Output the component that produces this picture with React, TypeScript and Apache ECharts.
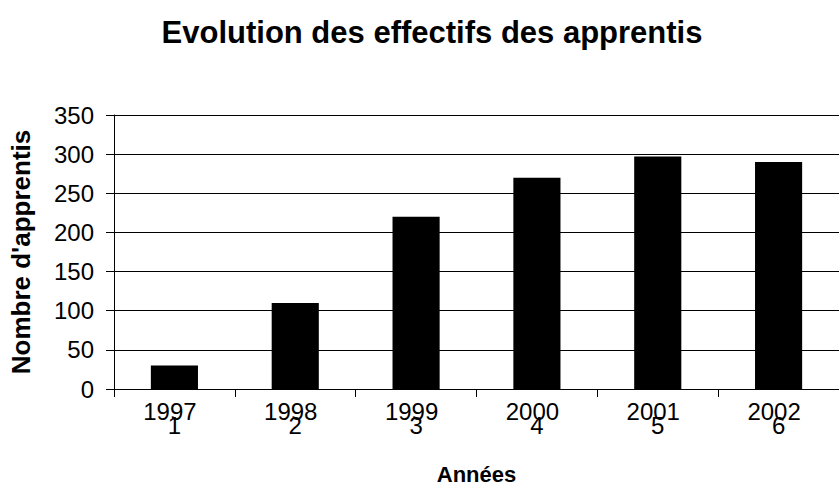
import React, { useEffect, useRef } from "react";
import * as echarts from "echarts";

const categories = ["1997", "1998", "1999", "2000", "2001", "2002"];
const indexLabels = ["1", "2", "3", "4", "5", "6"];
const apprentis = [30, 110, 220, 270, 297, 290];
const yMin = 0;
const yMax = 350;
const yStep = 50;

const FONT = "'Liberation Sans', Arial, sans-serif";

export default function App() {
  const ref = useRef<HTMLDivElement>(null);
  useEffect(() => {
    if (!ref.current) return;
    const chart = echarts.init(ref.current, undefined, { renderer: "svg" });
    chart.setOption({
      animation: false,
      backgroundColor: "#ffffff",
      textStyle: { fontFamily: FONT, color: "#000" },
      title: {
        text: "Evolution des effectifs des apprentis",
        left: 427,
        top: 12,
        textAlign: "center",
        textStyle: { fontFamily: FONT, fontSize: 31, fontWeight: "bold", color: "#000" },
      },
      grid: { left: 114, top: 115, width: 736, height: 284, containLabel: false },
      xAxis: {
        type: "category",
        data: categories,
        boundaryGap: true,
        name: "Années",
        nameLocation: "middle",
        nameGap: 74,
        nameTextStyle: { fontFamily: FONT, fontSize: 22, fontWeight: "bold", color: "#000" },
        axisLine: { show: true, lineStyle: { color: "#000", width: 1 } },
        axisTick: { show: true, length: 8, alignWithLabel: false, lineStyle: { color: "#000" } },
        axisLabel: {
          interval: 0,
          margin: 15,
          color: "#000",
          fontFamily: FONT,
          formatter: (v: string, i: number) => `{a|${v}}\n{b|${indexLabels[i]}}`,
          rich: {
            a: { fontFamily: FONT, fontSize: 24, lineHeight: 14, color: "#000", padding: [0, 9, 0, 0] },
            b: { fontFamily: FONT, fontSize: 24, lineHeight: 14, color: "#000" },
          },
        },
        splitLine: { show: false },
      },
      yAxis: {
        type: "value",
        min: yMin,
        max: yMax,
        interval: yStep,
        name: "Nombre d'apprentis",
        nameLocation: "middle",
        nameGap: 80,
        nameRotate: 90,
        nameTextStyle: { fontFamily: FONT, fontSize: 26, fontWeight: "bold", color: "#000" },
        axisLine: { show: true, lineStyle: { color: "#000", width: 1 } },
        axisTick: { show: true, length: 8, lineStyle: { color: "#000" } },
        axisLabel: { margin: 20, color: "#000", fontFamily: FONT, fontSize: 24 },
        splitLine: { show: true, lineStyle: { color: "#000", width: 1 } },
      },
      series: [
        {
          type: "bar",
          data: apprentis,
          barWidth: "39%",
          itemStyle: { color: "#000" },
        },
      ],
    });
    return () => chart.dispose();
  }, []);
  return (
    <div
      ref={ref}
      style={{ position: "absolute", left: 0, top: 0, width: 839, height: 490 }}
    />
  );
}
